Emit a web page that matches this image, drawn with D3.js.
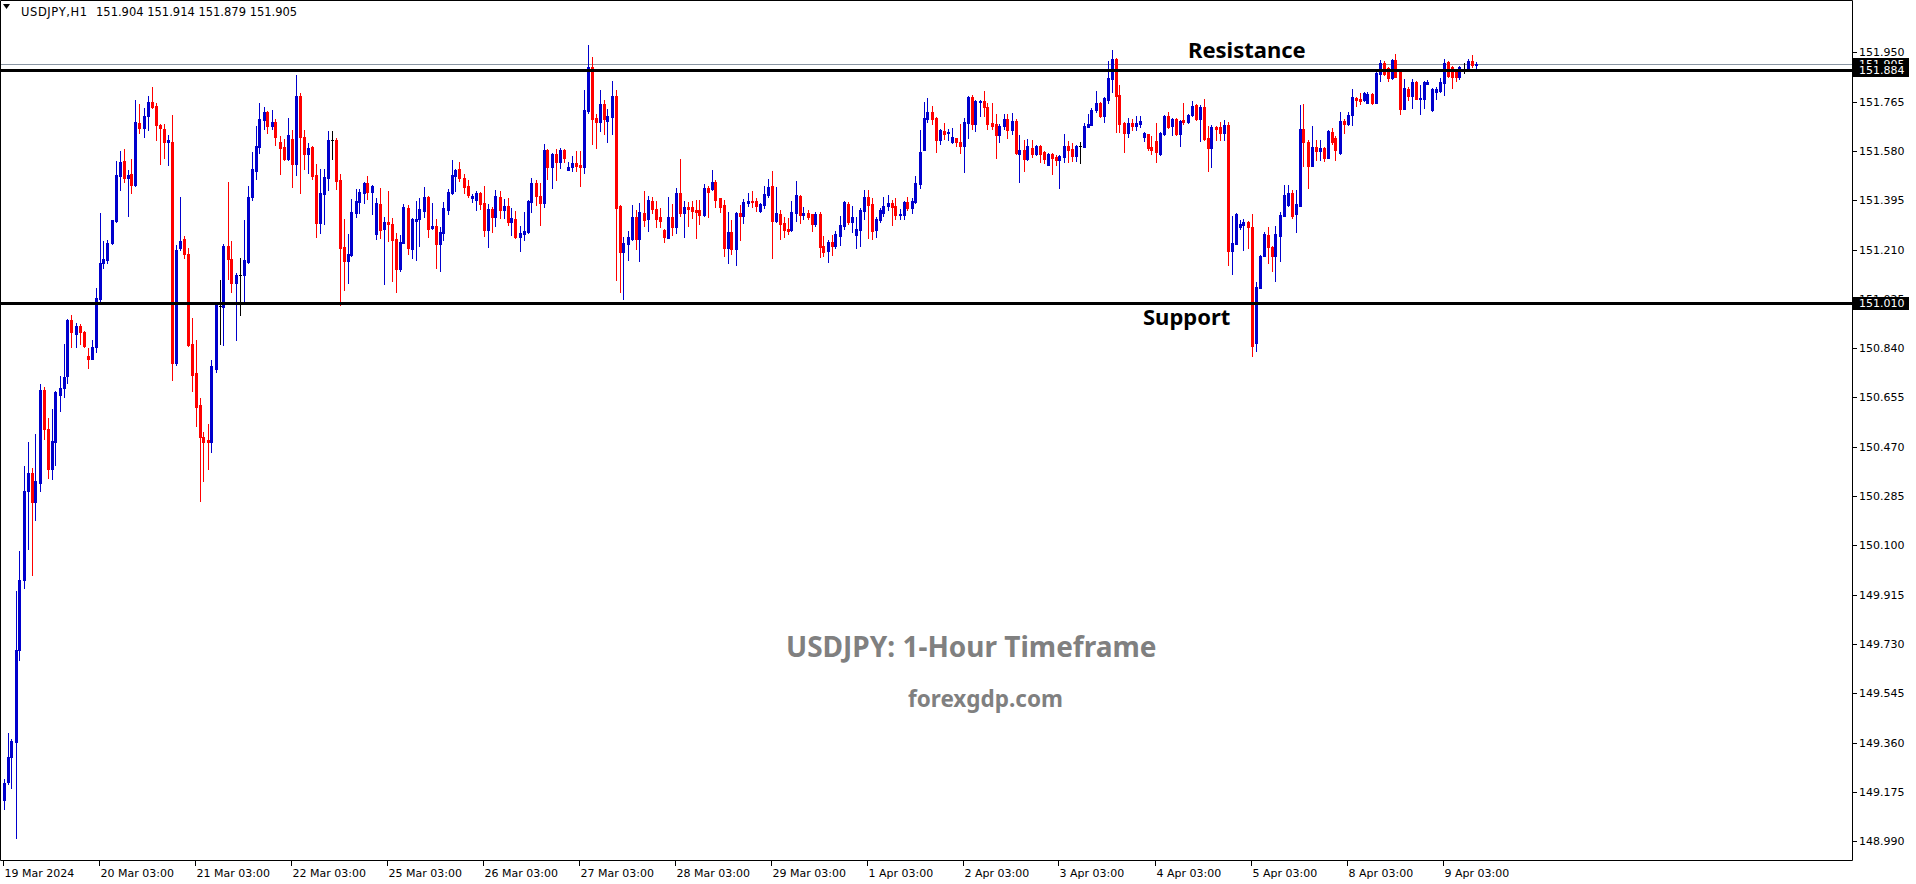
<!DOCTYPE html>
<html><head><meta charset="utf-8">
<script src="https://cdn.jsdelivr.net/npm/d3@7"></script>
<style>html,body{margin:0;padding:0;background:#fff;overflow:hidden}</style>
</head><body>
<svg id="chart" width="1916" height="884"></svg>
<script>
const symbolName = "USDJPY,H1";
const headerValues = [151.904, 151.914, 151.879, 151.905];
const opens = [149.146,149.211,149.305,149.364,149.707,149.969,150.304,150.373,150.264,150.336,150.683,150.537,150.388,150.489,150.665,150.690,150.734,150.945,150.895,150.924,150.901,150.811,150.801,150.843,151.025,151.159,151.169,151.236,151.318,151.485,151.542,151.477,151.494,151.452,151.686,151.666,151.710,151.762,151.749,151.676,151.663,151.615,151.615,150.786,151.217,151.249,151.194,150.855,150.748,150.627,150.508,150.495,150.489,150.763,150.998,150.995,151.224,151.175,151.083,151.115,151.115,151.164,151.407,151.506,151.596,151.696,151.726,151.675,151.688,151.613,151.595,151.550,151.625,151.531,151.786,151.632,151.568,151.595,151.490,151.311,151.420,151.480,151.621,151.621,151.471,151.219,151.168,151.191,151.348,151.388,151.423,151.460,151.427,151.269,151.381,151.288,151.313,151.306,151.249,151.137,151.236,151.367,151.213,151.318,151.326,151.356,151.407,151.292,151.298,151.231,151.272,151.358,151.422,151.486,151.512,151.480,151.448,151.403,151.396,151.422,151.384,151.284,151.362,151.333,151.407,151.358,151.373,151.315,151.325,151.258,151.270,151.276,151.388,151.460,151.411,151.385,151.584,151.521,151.569,151.540,151.584,151.510,151.521,151.535,151.527,151.521,151.730,151.895,151.703,151.690,151.756,151.694,151.709,151.786,151.373,151.202,151.232,151.251,151.332,151.251,151.347,151.326,151.392,151.362,151.332,151.285,151.255,151.332,151.296,151.422,151.348,151.370,151.370,151.358,151.358,151.340,151.441,151.437,151.463,151.403,151.377,151.217,151.276,151.213,151.347,151.337,151.385,151.392,151.392,151.355,151.377,151.415,151.448,151.317,151.343,151.310,151.287,151.285,151.347,151.411,151.340,151.347,151.343,151.307,151.343,151.225,151.206,151.240,151.225,151.262,151.300,151.381,151.315,151.266,151.285,151.355,151.407,151.381,151.285,151.321,151.347,151.373,151.385,151.373,151.340,151.340,151.388,151.366,151.388,151.456,151.584,151.700,151.726,151.703,151.621,151.655,151.647,151.613,151.628,151.613,151.598,151.685,151.782,151.681,151.763,151.767,151.745,151.685,151.681,151.640,151.673,151.700,151.658,151.692,151.569,151.584,151.550,151.591,151.569,151.599,151.576,151.527,151.569,151.557,151.546,151.557,151.599,151.587,151.561,151.599,151.595,151.670,151.678,151.733,151.760,151.711,151.771,151.850,151.925,151.790,151.685,151.647,151.685,151.673,151.681,151.632,151.643,151.595,151.617,151.569,151.643,151.711,151.673,151.700,151.643,151.696,151.689,151.715,151.752,151.700,151.745,151.628,151.591,151.670,151.670,151.647,151.677,151.206,151.232,151.296,151.303,151.315,151.296,150.860,151.067,151.187,151.266,151.221,151.187,151.262,151.337,151.378,151.421,151.342,151.375,151.664,151.615,151.525,151.596,151.581,151.592,151.555,151.652,151.630,151.573,151.694,151.682,151.716,151.780,151.776,151.772,151.761,151.795,151.761,151.870,151.911,151.892,151.855,151.922,151.881,151.739,151.814,151.787,151.840,151.776,151.776,151.832,151.735,151.802,151.806,151.836,151.915,151.896,151.881,151.859,151.889,151.889,151.919,151.904];
const highs = [149.222,149.395,149.375,149.930,150.078,150.399,150.489,150.390,150.518,150.706,150.696,150.577,150.612,150.681,150.734,150.855,150.949,150.964,150.935,150.930,150.905,150.842,150.870,151.065,151.347,151.242,151.245,151.322,151.542,151.580,151.588,151.509,151.550,151.772,151.756,151.741,151.787,151.820,151.760,151.680,151.682,151.640,151.714,151.226,151.406,151.261,151.217,150.953,150.870,150.654,150.524,150.556,150.796,151.008,151.096,151.232,151.464,151.242,151.123,151.178,151.320,151.450,151.577,151.673,151.761,151.746,151.730,151.733,151.700,151.635,151.625,151.703,151.658,151.865,151.797,151.658,151.610,151.598,151.531,151.512,151.512,151.655,151.655,151.628,151.493,151.325,151.268,151.400,151.437,151.437,151.463,151.486,151.452,151.403,151.441,151.332,151.430,151.328,151.272,151.264,151.381,151.377,151.330,151.392,151.403,151.445,151.411,151.386,151.324,151.293,151.388,151.437,151.546,151.512,151.538,151.493,151.471,151.418,151.430,151.426,151.448,151.381,151.370,151.433,151.430,151.400,151.403,151.366,151.355,151.298,151.351,151.396,151.478,151.471,151.460,151.606,151.587,151.572,151.587,151.591,151.587,151.538,151.562,151.580,151.580,151.809,151.977,151.932,151.719,151.809,151.771,151.737,151.842,151.809,151.377,151.257,151.281,151.377,151.358,151.385,151.430,151.411,151.407,151.392,151.366,151.287,151.407,151.381,151.441,151.550,151.392,151.388,151.392,151.396,151.396,151.456,151.448,151.508,151.471,151.403,151.396,151.351,151.321,151.350,151.377,151.400,151.422,151.430,151.403,151.385,151.448,151.475,151.505,151.445,151.358,151.332,151.328,151.392,151.467,151.415,151.370,151.358,151.345,151.351,151.351,151.262,151.247,151.266,151.281,151.336,151.392,151.388,151.373,151.332,151.366,151.433,151.433,151.403,151.332,151.366,151.407,151.415,151.396,151.403,151.362,151.392,151.407,151.403,151.486,151.658,151.763,151.779,151.749,151.707,151.662,151.685,151.662,151.666,151.630,151.681,151.703,151.786,151.790,151.771,151.771,151.805,151.760,151.760,151.719,151.681,151.719,151.719,151.722,151.700,151.640,151.621,151.625,151.621,151.602,151.602,151.580,151.572,151.572,151.565,151.565,151.644,151.617,151.610,151.602,151.614,151.685,151.719,151.741,151.805,151.763,151.782,151.917,151.959,151.928,151.827,151.688,151.703,151.700,151.711,151.711,151.651,151.645,151.636,151.685,151.650,151.715,151.726,151.703,151.703,151.696,151.760,151.719,151.767,151.755,151.752,151.775,151.673,151.677,151.673,151.689,151.696,151.689,151.337,151.348,151.322,151.326,151.318,151.345,151.090,151.190,151.274,151.296,151.224,151.300,151.352,151.453,151.453,151.435,151.435,151.754,151.757,151.622,151.675,151.622,151.622,151.595,151.659,151.667,151.637,151.727,151.701,151.727,151.814,151.782,151.799,151.802,151.802,151.797,151.889,151.922,151.919,151.896,151.926,151.945,151.885,151.851,151.821,151.851,151.843,151.829,151.843,151.847,151.817,151.821,151.855,151.926,151.919,151.900,151.885,151.900,151.911,151.926,151.941,151.914];
const lows = [149.113,149.205,149.190,149.002,149.672,149.940,150.087,149.988,150.195,150.304,150.501,150.352,150.348,150.403,150.604,150.658,150.711,150.845,150.845,150.857,150.845,150.767,150.798,150.824,151.006,151.140,151.161,151.232,151.315,151.435,151.465,151.335,151.423,151.448,151.649,151.634,151.657,151.740,151.622,151.531,151.552,151.527,150.719,150.776,151.209,151.178,150.850,150.681,150.547,150.265,150.342,150.388,150.451,150.752,150.855,150.853,151.098,151.050,150.870,150.966,151.018,151.160,151.396,151.476,151.573,151.661,151.648,151.662,151.602,151.495,151.546,151.546,151.446,151.490,151.423,151.512,151.498,151.476,151.258,151.273,151.307,151.433,151.551,151.438,151.002,151.058,151.086,151.187,151.333,151.348,151.386,151.399,151.344,151.251,151.253,151.082,151.243,151.093,151.052,151.131,151.233,151.194,151.179,151.172,151.224,151.332,151.258,151.288,151.141,151.131,151.247,151.343,151.418,151.429,151.468,151.423,151.408,151.388,151.358,151.362,151.262,151.221,151.277,151.300,151.330,151.330,151.303,151.266,151.255,151.206,151.247,151.273,151.351,151.377,151.303,151.370,151.476,151.442,151.472,151.517,151.540,151.508,151.506,151.506,151.450,151.498,151.722,151.607,151.592,151.656,151.645,151.615,151.645,151.097,151.052,151.026,151.172,151.247,151.213,151.168,151.300,151.281,151.348,151.296,151.296,151.240,151.253,151.266,151.273,151.337,151.258,151.300,151.330,151.255,151.307,151.337,151.333,151.433,151.370,151.351,151.187,151.161,151.195,151.153,151.247,151.311,151.373,151.370,151.355,151.352,151.366,151.407,151.178,151.313,151.251,151.258,151.270,151.281,151.317,151.311,151.325,151.326,151.281,151.300,151.183,151.187,151.165,151.191,151.217,151.228,151.288,151.307,151.277,151.217,151.225,151.326,151.255,151.251,151.258,151.315,151.336,151.357,151.303,151.326,151.326,151.326,151.358,151.347,151.385,151.441,151.582,151.689,151.681,151.576,151.606,151.625,151.621,151.610,151.598,151.572,151.501,151.628,151.662,151.655,151.711,151.711,151.662,151.662,151.554,151.614,151.662,151.628,151.644,151.569,151.463,151.505,151.546,151.557,151.565,151.539,151.535,151.527,151.493,151.527,151.441,151.539,151.539,151.542,151.542,151.535,151.593,151.668,151.676,151.726,151.707,151.689,151.760,151.801,151.651,151.651,151.576,151.632,151.658,151.658,151.670,151.617,151.584,151.569,151.539,151.565,151.640,151.666,151.640,151.640,151.599,151.681,151.686,151.711,151.696,151.617,151.622,151.505,151.520,151.621,151.621,151.621,151.151,151.120,151.230,151.288,151.210,151.217,150.811,150.830,151.064,151.184,151.161,151.131,151.093,151.168,151.335,151.375,151.330,151.277,151.372,151.525,151.442,151.522,151.547,151.547,151.543,151.552,151.607,151.547,151.570,151.649,151.679,151.679,151.750,151.757,151.768,151.758,151.757,151.759,151.843,151.866,151.843,151.851,151.856,151.720,151.736,151.772,151.742,151.774,151.720,151.742,151.830,151.731,151.776,151.802,151.791,151.859,151.817,151.843,151.851,151.874,151.881,151.896,151.879];
const closes = [149.209,149.307,149.366,149.707,149.969,150.304,150.373,150.264,150.342,150.683,150.535,150.388,150.491,150.675,150.690,150.732,150.945,150.899,150.924,150.901,150.849,150.798,150.843,151.029,151.159,151.175,151.236,151.320,151.490,151.538,151.477,151.490,151.452,151.687,151.666,151.710,151.762,151.743,151.676,151.665,151.615,151.621,150.786,151.209,151.242,151.194,150.853,150.740,150.619,150.505,150.489,150.489,150.773,151.002,150.998,151.224,151.173,151.083,151.115,151.115,151.169,151.407,151.512,151.598,151.700,151.726,151.675,151.688,151.633,151.592,151.550,151.640,151.531,151.786,151.632,151.568,151.591,151.486,151.311,151.422,151.482,151.621,151.621,151.468,151.217,151.168,151.193,151.351,151.392,151.426,151.460,151.427,151.448,151.384,151.284,151.313,151.307,151.247,151.138,151.238,151.371,151.217,151.325,151.325,151.362,151.407,151.288,151.298,151.231,151.276,151.366,151.426,151.489,151.508,151.480,151.445,151.415,151.411,151.422,151.382,151.284,151.362,151.333,151.411,151.358,151.373,151.315,151.328,151.258,151.272,151.280,151.392,151.460,151.411,151.385,151.584,151.521,151.569,151.540,151.584,151.555,151.521,151.535,151.525,151.521,151.733,151.895,151.701,151.690,151.756,151.701,151.711,151.786,151.367,151.202,151.235,151.257,151.332,151.251,151.351,151.322,151.396,151.362,151.326,151.318,151.258,151.332,151.296,151.422,151.348,151.370,151.362,151.355,151.351,151.340,151.441,151.426,151.463,151.396,151.370,151.217,151.276,151.213,151.347,151.337,151.388,151.392,151.388,151.373,151.381,151.418,151.445,151.317,151.347,151.306,151.285,151.281,151.351,151.415,151.340,151.347,151.332,151.307,151.343,151.221,151.202,151.240,151.225,151.268,151.302,151.388,151.315,151.332,151.287,151.358,151.407,151.377,151.281,151.325,151.358,151.373,151.385,151.370,151.341,151.343,151.388,151.366,151.392,151.460,151.576,151.703,151.726,151.700,151.621,151.658,151.643,151.651,151.632,151.613,151.598,151.689,151.782,151.681,151.767,151.767,151.745,151.681,151.673,151.640,151.673,151.700,151.658,151.692,151.572,151.584,151.550,151.599,151.569,151.599,151.569,151.550,151.569,151.554,151.546,151.561,151.599,151.584,151.561,151.599,151.599,151.673,151.681,151.733,151.760,151.711,151.779,151.854,151.925,151.786,151.681,151.647,151.685,151.673,151.685,151.692,151.647,151.591,151.584,151.576,151.647,151.711,151.670,151.700,151.643,151.692,151.689,151.715,151.749,151.700,151.745,151.625,151.591,151.670,151.662,151.647,151.677,151.206,151.236,151.345,151.307,151.315,151.296,150.850,151.071,151.187,151.270,151.221,151.187,151.270,151.341,151.416,151.421,151.337,151.382,151.664,151.615,151.525,151.596,151.581,151.592,151.555,151.656,151.615,151.585,151.694,151.682,151.716,151.784,151.772,151.768,151.799,151.795,151.761,151.874,151.911,151.870,151.855,151.922,151.859,151.739,151.817,151.787,151.840,151.776,151.780,151.840,151.840,151.814,151.814,151.840,151.911,151.862,151.859,151.859,151.896,151.889,151.919,151.904,151.905];
const yTickValues = [151.950,151.765,151.580,151.395,151.210,151.025,150.840,150.655,150.470,150.285,150.100,149.915,149.730,149.545,149.360,149.175,148.990];
const xTickLabels = ["19 Mar 2024","20 Mar 03:00","21 Mar 03:00","22 Mar 03:00","25 Mar 03:00","26 Mar 03:00","27 Mar 03:00","28 Mar 03:00","29 Mar 03:00","1 Apr 03:00","2 Apr 03:00","3 Apr 03:00","4 Apr 03:00","5 Apr 03:00","8 Apr 03:00","9 Apr 03:00"];
const xTickBars = [0,24,48,72,96,120,144,168,192,216,240,264,288,312,336,360];
const levelNames = ["Resistance","Support"];
const levelPrices = [151.884,151.010];
const bidPrice = 151.905;
const titleText = "USDJPY: 1-Hour Timeframe";
const siteText = "forexgdp.com";

const svg = d3.select("#chart");
const W = 1916, H = 884;
const plotRight = 1852, plotBottom = 860;
const n = opens.length;
const x = d3.scaleLinear().domain([0, 368]).range([3.5, 1475.5]);
const y = d3.scaleLinear().domain([148.990, 151.950]).range([841.3, 52.3]);
const font = "'DejaVu Sans', Verdana, sans-serif";

svg.append("rect").attr("width", W).attr("height", H).attr("fill", "#fff");

// frame
svg.append("path")
  .attr("d", `M0.5,${plotBottom + 0.5}V0.5H${plotRight + 0.5}V${plotBottom + 0.5}H0.5`)
  .attr("fill", "none").attr("stroke", "#000").attr("stroke-width", 1);

// header
svg.append("path").attr("d", "M3,4 L10,4 L6.5,9 Z").attr("fill", "#000");
svg.append("text").attr("x", 21).attr("y", 15.5).attr("font-family", font).attr("font-size", 11.5)
  .attr("letter-spacing", 0.6).attr("fill", "#000").text(symbolName);
svg.append("text").attr("x", 96).attr("y", 15.5).attr("font-family", font).attr("font-size", 11.5)
  .attr("fill", "#000").text(headerValues.map(v => v.toFixed(3)).join(" "));

// y axis
const yAxis = svg.append("g");
yTickValues.forEach(v => {
  const yy = Math.round(y(v)) + 0.5;
  yAxis.append("line").attr("x1", plotRight).attr("x2", plotRight + 5).attr("y1", yy).attr("y2", yy)
    .attr("stroke", "#000");
  yAxis.append("text").attr("x", plotRight + 7).attr("y", yy).attr("dy", "0.36em")
    .attr("font-family", font).attr("font-size", 11).attr("fill", "#000").text(v.toFixed(3));
});

// x axis
const xAxis = svg.append("g");
xTickLabels.forEach((lab, k) => {
  const xx = Math.round(x(xTickBars[k])) - 0.5;
  xAxis.append("line").attr("x1", xx).attr("x2", xx).attr("y1", plotBottom).attr("y2", plotBottom + 6)
    .attr("stroke", "#000");
  xAxis.append("text").attr("x", xx + 1).attr("y", plotBottom + 17)
    .attr("font-family", font).attr("font-size", 11).attr("fill", "#000").text(lab);
});

// watermark texts
const tfont = "'Noto Sans', 'Open Sans', sans-serif";
svg.append("text").attr("x", 786).attr("y", 657).attr("font-family", tfont).attr("font-weight", "bold")
  .attr("font-size", 28).attr("fill", "#808080").text(titleText);
svg.append("text").attr("x", 908).attr("y", 707).attr("font-family", tfont).attr("font-weight", "bold")
  .attr("font-size", 22.5).attr("fill", "#808080").text(siteText);

// bid line
svg.append("line").attr("x1", 1).attr("x2", plotRight).attr("y1", Math.round(y(bidPrice)) + 0.5)
  .attr("y2", Math.round(y(bidPrice)) + 0.5).attr("stroke", "#8a96a3").attr("stroke-width", 1);

// candles
const data = d3.range(n).map(i => ({i, o: opens[i], h: highs[i], l: lows[i], c: closes[i]}));
const col = d => d.c > d.o ? "#0000cd" : (d.c < d.o ? "#ff0000" : "#000");
const cg = svg.append("g");
cg.selectAll("line.wick").data(data).join("line")
  .attr("x1", d => Math.round(x(d.i)) + 0.5).attr("x2", d => Math.round(x(d.i)) + 0.5)
  .attr("y1", d => Math.round(y(d.h))).attr("y2", d => Math.round(y(d.l)) + 1)
  .attr("stroke", col).attr("stroke-width", 1);
cg.selectAll("rect.body").data(data).join("rect")
  .attr("x", d => Math.round(x(d.i)) - 1).attr("width", 3)
  .attr("y", d => Math.round(y(Math.max(d.o, d.c))))
  .attr("height", d => Math.max(1, Math.round(y(Math.min(d.o, d.c))) - Math.round(y(Math.max(d.o, d.c))) + 1))
  .attr("fill", col);

// horizontal levels
levelPrices.forEach(p => {
  const yy = Math.round(y(p)) + 0.5;
  svg.append("line").attr("x1", 1).attr("x2", plotRight).attr("y1", yy).attr("y2", yy)
    .attr("stroke", "#000").attr("stroke-width", 3);
});

// level annotations
svg.append("text").attr("x", 1188).attr("y", 58).attr("font-family", tfont).attr("font-weight", "bold")
  .attr("font-size", 22).attr("fill", "#000").text(levelNames[0]);
svg.append("text").attr("x", 1143).attr("y", 325).attr("font-family", tfont).attr("font-weight", "bold")
  .attr("font-size", 22).attr("fill", "#000").text(levelNames[1]);

// price boxes on axis
[bidPrice, levelPrices[0], levelPrices[1]].forEach(p => {
  const yy = Math.round(y(p));
  svg.append("rect").attr("x", plotRight + 1).attr("y", yy - 6).attr("width", 56).attr("height", 13).attr("fill", "#000");
  svg.append("text").attr("x", plotRight + 7).attr("y", yy + 0.5).attr("dy", "0.36em")
    .attr("font-family", font).attr("font-size", 11).attr("fill", "#fff").text(p.toFixed(3));
});
</script>
</body></html>
